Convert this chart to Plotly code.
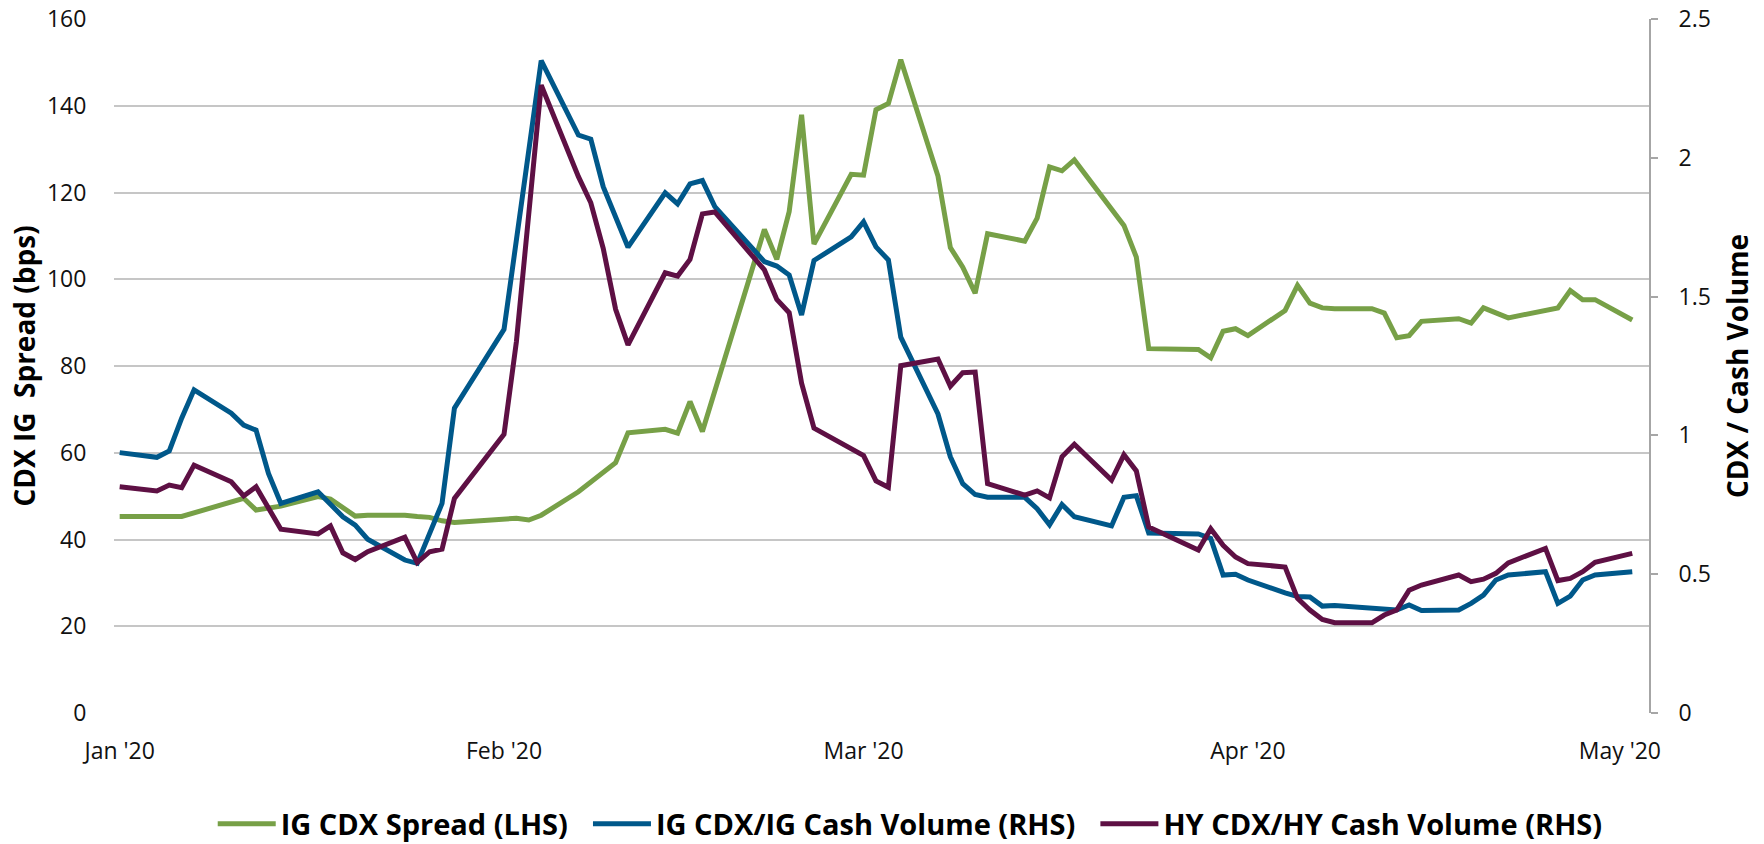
import plotly.graph_objects as go

dates = [
    "2020-01-01", "2020-01-04", "2020-01-05", "2020-01-06", "2020-01-07",
    "2020-01-10", "2020-01-11", "2020-01-12", "2020-01-13", "2020-01-14",
    "2020-01-17", "2020-01-18", "2020-01-19", "2020-01-20", "2020-01-21",
    "2020-01-24", "2020-01-25", "2020-01-26", "2020-01-27", "2020-01-28",
    "2020-02-01", "2020-02-02", "2020-02-03", "2020-02-04",
    "2020-02-07", "2020-02-08", "2020-02-09", "2020-02-10", "2020-02-11",
    "2020-02-14", "2020-02-15", "2020-02-16", "2020-02-17", "2020-02-18",
    "2020-02-22", "2020-02-23", "2020-02-24", "2020-02-25", "2020-02-26",
    "2020-02-29", "2020-03-01", "2020-03-02", "2020-03-03", "2020-03-04",
    "2020-03-07", "2020-03-08", "2020-03-09", "2020-03-10", "2020-03-11",
    "2020-03-14", "2020-03-15", "2020-03-16", "2020-03-17", "2020-03-18",
    "2020-03-21", "2020-03-22", "2020-03-23", "2020-03-24",
    "2020-03-28", "2020-03-29", "2020-03-30", "2020-03-31", "2020-04-01",
    "2020-04-04", "2020-04-05", "2020-04-06", "2020-04-07", "2020-04-08",
    "2020-04-11", "2020-04-12", "2020-04-13", "2020-04-14", "2020-04-15",
    "2020-04-18", "2020-04-19", "2020-04-20", "2020-04-21", "2020-04-22",
    "2020-04-25", "2020-04-26", "2020-04-27", "2020-04-28", "2020-04-29",
    "2020-05-02",
]

ig_cdx_spread = [
    45.3, None, None, 45.3, None,
    None, 49.5, 46.8, None, 47.7,
    49.9, 49.3, None, 45.4, 45.6,
    45.6, 45.3, 45.1, 44.3, 43.9,
    None, 44.9, 44.5, 45.6,
    51.0, None, None, 57.7, 64.6,
    65.4, 64.5, 71.8, 64.9, None,
    111.5, 104.6, 115.6, 137.9, 108.1,
    124.2, 124.0, 139.1, 140.5, 150.6,
    123.8, 107.3, 102.8, 96.8, 110.5,
    108.8, 114.1, 125.9, 125.0, 127.5,
    None, 112.4, 105.1, 84.0,
    83.8, 81.9, 88.0, 88.6, 87.0,
    92.8, 98.6, 94.5, 93.4, 93.2,
    93.2, 92.2, 86.5, 87.0, 90.3,
    90.9, 89.9, 93.4, None, 91.1,
    None, 93.4, 97.4, 95.3, 95.3,
    90.6,
]

ig_volume_ratio = [
    0.938, 0.921, 0.944, 1.062, 1.164,
    1.080, 1.037, 1.019, 0.863, 0.755,
    0.797, 0.750, 0.707, 0.677, 0.626,
    0.551, 0.539, None, 0.755, 1.098,
    1.382, None, None, 2.350,
    2.082, 2.067, 1.896, None, 1.678,
    1.874, 1.834, 1.906, 1.918, 1.824,
    1.626, 1.610, 1.578, 1.434, 1.630,
    1.715, 1.769, 1.679, 1.632, 1.354,
    1.077, 0.923, 0.826, 0.787, 0.777,
    0.777, 0.736, 0.678, 0.751, 0.707,
    0.674, 0.777, 0.783, 0.648,
    0.645, 0.629, 0.497, 0.500, 0.479,
    0.433, 0.420, 0.418, 0.385, 0.387,
    None, None, 0.371, 0.389, 0.369,
    0.371, 0.395, 0.425, 0.479, 0.497,
    0.509, 0.395, 0.421, 0.479, 0.497,
    0.509,
]

hy_volume_ratio = [
    0.815, 0.800, 0.821, 0.812, 0.893,
    0.833, 0.782, 0.815, None, 0.662,
    0.645, 0.674, 0.577, 0.553, 0.581,
    0.633, 0.542, 0.581, 0.590, 0.773,
    1.004, 1.338, None, 2.262,
    1.932, 1.838, 1.674, 1.454, 1.326,
    1.586, 1.574, 1.634, 1.798, 1.805,
    1.596, 1.490, 1.442, 1.188, 1.026,
    0.955, 0.927, 0.836, 0.813, 1.251,
    1.275, 1.177, 1.226, 1.228, 0.826,
    0.785, 0.800, 0.775, 0.923, 0.968,
    0.839, 0.930, 0.872, 0.670,
    0.587, 0.664, 0.604, 0.562, 0.538,
    0.526, 0.413, 0.371, 0.337, 0.325,
    0.325, 0.353, 0.371, 0.442, 0.461,
    0.497, 0.473, 0.482, 0.503, 0.541,
    0.593, 0.477, 0.485, 0.509, 0.543,
    0.575,
]

month_ticks = ["2020-01-01", "2020-02-01", "2020-03-01", "2020-04-01", "2020-05-01"]
month_labels = ["Jan '20", "Feb '20", "Mar '20", "Apr '20", "May '20"]

series_names = ["IG CDX Spread (LHS)", "IG CDX/IG Cash Volume (RHS)", "HY CDX/HY Cash Volume (RHS)"]

GREEN = "#77A047"
BLUE = "#00588A"
PURPLE = "#5E1044"
FONT = "Segoe UI, Open Sans, Noto Sans, sans-serif"
PAD = "\u00a0\u00a0"

fig = go.Figure()
fig.add_trace(go.Scatter(x=dates, y=ig_cdx_spread, name=series_names[0] + PAD,
                         mode="lines", connectgaps=True,
                         line=dict(color=GREEN, width=5)))
fig.add_trace(go.Scatter(x=dates, y=ig_volume_ratio, name=series_names[1] + PAD,
                         mode="lines", connectgaps=True, yaxis="y2",
                         line=dict(color=BLUE, width=5)))
fig.add_trace(go.Scatter(x=dates, y=hy_volume_ratio, name=series_names[2],
                         mode="lines", connectgaps=True, yaxis="y2",
                         line=dict(color=PURPLE, width=5)))

fig.update_layout(
    width=1764, height=844,
    margin=dict(l=114, r=115, t=19, b=131, autoexpand=False),
    paper_bgcolor="white", plot_bgcolor="white",
    font=dict(family=FONT, size=23, color="#111111"),
    showlegend=True,
    legend=dict(orientation="h", xref="container", yref="container",
                x=0.516, xanchor="center", y=0.0237, yanchor="middle",
                font=dict(family=FONT, size=29, color="#000000", weight="bold"),
                itemwidth=58, tracegroupgap=0, bgcolor="rgba(0,0,0,0)"),
    xaxis=dict(type="date", range=["2019-12-31 13:00", "2020-05-03 08:24"],
               tickmode="array", tickvals=month_ticks, ticktext=month_labels,
               showgrid=False, zeroline=False, showline=False, automargin=False,
               ticks="outside", ticklen=17, tickcolor="rgba(0,0,0,0)",
               tickfont=dict(size=23)),
    yaxis=dict(range=[0, 160], dtick=20, tick0=0, automargin=False,
               showgrid=True, gridcolor="#C6C6C6", gridwidth=2,
               zeroline=False, showline=False,
               ticks="outside", ticklen=22, tickcolor="rgba(0,0,0,0)",
               tickfont=dict(size=23),
               title=dict(text="CDX IG\u00a0 Spread (bps)", standoff=3,
                          font=dict(size=28, weight="bold", color="#000000"))),
    yaxis2=dict(range=[0, 2.5], dtick=0.5, tick0=0, overlaying="y", side="right",
                automargin=False, showgrid=False, zeroline=False,
                showline=True, linecolor="#A6A6A6", linewidth=2,
                ticks="outside", ticklen=7, tickcolor="#A6A6A6", tickwidth=2,
                ticklabelstandoff=16,
                tickfont=dict(size=23),
                title=dict(text="CDX / Cash Volume", standoff=18,
                           font=dict(size=28, weight="bold", color="#000000"))),
)

fig.write_html("out.html",
               config={"displayModeBar": False},
               post_script="document.body.style.margin='0';document.body.style.overflow='hidden';")
